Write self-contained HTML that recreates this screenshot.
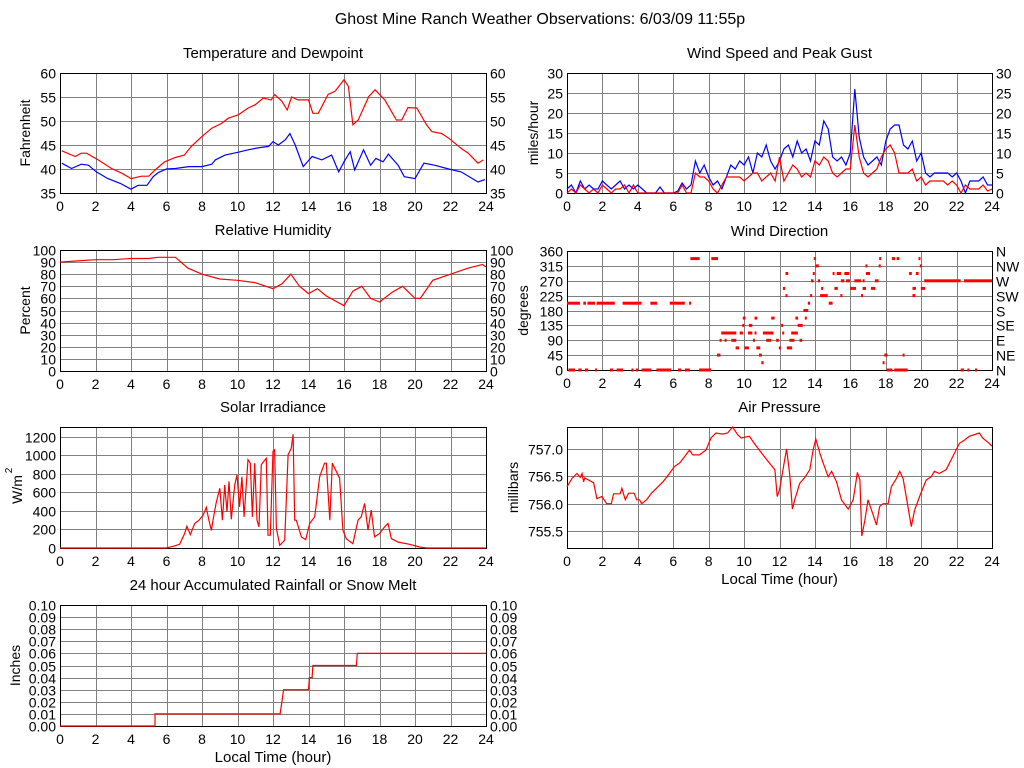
<!DOCTYPE html>
<html><head><meta charset="utf-8"><style>
html,body{margin:0;padding:0;background:#fff;}
svg{display:block;font-family:"Liberation Sans",Arial,sans-serif;}
</style></head><body>
<svg id="c" width="1024" height="768" viewBox="0 0 1024 768">
<text x="540" y="24" font-size="16" text-anchor="middle">Ghost Mine Ranch Weather Observations: 6/03/09 11:55p</text>
</svg>
<script>
// ---- Data ----
const tempHours=[0.1,0.85,1.2,1.5,2.15,2.9,3.5,4.0,4.6,5.0,5.35,5.9,6.5,7.0,7.4,8.0,8.55,9.1,9.5,10.05,10.6,11.0,11.45,11.9,12.1,12.5,12.8,13.05,13.4,14.0,14.25,14.55,15.1,15.5,16.0,16.25,16.5,16.8,17.4,17.75,18.3,18.95,19.25,19.6,20.1,20.65,20.95,21.5,21.95,22.6,23.0,23.55,23.85];
const tempValues=[43.8,42.6,43.3,43.3,41.9,40.1,39.1,38.0,38.5,38.5,39.8,41.5,42.4,42.9,44.7,46.8,48.5,49.5,50.6,51.3,52.7,53.4,54.8,54.4,55.5,54.1,52.3,55.0,54.4,54.4,51.6,51.6,55.5,56.2,58.6,57.2,49.2,50.2,55.1,56.5,54.4,50.2,50.2,52.8,52.7,49.2,47.8,47.4,46.3,44.3,43.3,41.2,41.9];
const dewHours=[0.1,0.65,1.2,1.6,2.05,2.7,3.4,4.0,4.4,4.9,5.25,5.55,6.0,6.5,7.25,8.0,8.55,8.75,9.3,10.05,10.6,11.15,11.75,12.0,12.3,12.7,12.95,13.25,13.7,14.2,14.75,15.3,15.7,16.0,16.35,16.6,17.1,17.5,17.8,18.2,18.5,19.05,19.4,20.0,20.5,21.1,21.9,22.6,23.55,23.95];
const dewValues=[41.2,40.1,41.0,40.8,39.4,38.0,37.0,35.8,36.6,36.6,38.4,39.3,40.0,40.1,40.5,40.5,41.0,41.9,42.9,43.5,44.0,44.4,44.7,45.7,45.0,46.1,47.4,45.0,40.5,42.6,41.9,42.9,39.4,41.5,43.6,39.8,44.0,40.8,42.2,41.5,43.1,40.8,38.4,38.0,41.2,40.8,40.0,39.4,37.3,37.8];
const gustValues=[1,2,0,3,1,2,1,1,3,2,1,2,3,1,2,1,2,1,0,0,0,1.5,0,0,0,0.5,2.5,1,2,8,5,7,4,2,3,1,4,7,6,8,7,9,5,10,9,12,8,6,8,11,12,9,13,10,11,8,13,12,18,16,9,8,9,7,10,26,14,9,7,8,9,7,13,16,17,17,12,11,13,8,10,5,4,5,5,5,5,4,5,3,0,3,3,3,4,2,2];
const speedValues=[0,1,0,2,1,0,1,0,2,1,0,1,1,2,0,2,0,0,0,0,0,0,0,0,0,0,2,0,0,5,4,4,3,1,0,2,4,4,4,4,3,4,5,5,3,4,5,3,9,3,5,7,6,4,5,4,8,7,9,8,5,4,5,6,6,17,9,5,4,5,6,9,11,12,10,5,5,5,6,3,4,2,3,3,3,3,2,3,2,0,2,1,1,1,2,0.5,1];
const rhHours=[0,1,2,3,4,5,5.5,6.5,7.2,8,9,10,11,12,12.5,13,13.5,14,14.5,15,16,16.5,17,17.5,18,18.7,19.3,20,20.3,21,22,23,23.8,24];
const rhValues=[90,91,92,92,93,93,94,94,85,80,76,75,73,68,72,80,70,64,68,62,54,66,70,60,57,65,70,60,60,75,80,85,88,86];
const dirStart=[0,0.92,1.15,1.67,3.14,4.71,5.8,6.89,0.08,0.64,1.01,1.58,2.42,2.8,3.64,3.89,4.21,5.05,6.27,6.65,7.46,18.05,18.48,22.23,22.61,23.04,6.97,8.15,13.93,17.63,18.35,18.61,19.85,8.47,17.92,18.95,10.84,8.62,8.9,9.28,10.5,11.25,11.81,12.56,13.13,8.71,9.75,10.22,10.59,11.06,12.15,12.66,9.52,10.03,10.69,11.96,12.41,9.93,10.59,11.53,12.9,13.43,9.9,10.27,12.09,13.03,10.97,17.82,12.19,19.51,19.98,14.35,15.1,15.98,16.69,17.16,12.34,13.88,15.0,15.23,15.66,16.88,19.32,19.7,12.34,13.73,14.29,15.44,16.6,19.51,13.6,14.78,13.35,13.78,14.16,15.47,15.76,16.23,16.69,17.39,20.17,22.42,14.03,16.85,17.6,19.92];
const dirEnd=[0.73,1.07,1.58,2.7,4.21,5.09,6.65,6.97,0.45,0.83,1.2,1.67,2.61,3.17,3.74,4.02,4.77,5.9,6.46,6.93,8.15,18.38,19.23,22.42,22.67,23.17,7.49,8.53,14.03,17.73,18.53,18.76,19.92,8.66,18.1,18.99,11.0,8.71,8.99,9.56,10.59,11.53,11.96,12.85,13.28,9.56,9.93,10.46,10.69,11.66,12.23,13.03,9.71,10.27,10.91,12.04,12.71,10.08,10.74,11.72,13.05,13.54,9.93,10.46,12.19,13.31,11.1,17.92,12.32,19.7,20.22,14.44,15.29,16.32,16.88,17.41,12.49,13.93,15.1,15.47,15.94,17.11,19.47,19.85,12.38,13.78,14.72,15.51,16.66,19.66,13.73,15.0,13.62,13.92,14.29,15.66,15.98,16.6,16.79,17.6,22.23,24,14.22,16.92,17.67,20.04];
const dirDeg=[202,202,202,202,202,202,202,202,0,0,0,0,0,0,0,0,0,0,0,0,0,0,0,0,0,0,337,337,337,337,337,337,337,45,45,45,45,90,90,90,90,90,90,90,90,112,112,112,112,112,112,112,67,67,67,67,67,157,157,157,157,157,135,135,135,135,22,22,247,247,247,247,247,247,247,247,292,292,292,292,292,292,292,292,225,225,225,225,225,225,202,202,180,270,270,270,270,270,270,270,270,270,315,315,315,315];
const solarHours=[0,5.99,6.37,6.74,7.02,7.15,7.34,7.59,7.83,8.06,8.24,8.39,8.53,8.62,8.8,9.0,9.15,9.28,9.41,9.52,9.65,9.84,9.97,10.12,10.25,10.37,10.5,10.59,10.72,10.84,10.97,11.1,11.21,11.34,11.47,11.62,11.72,11.85,12.0,12.09,12.19,12.38,12.66,12.85,13.03,13.13,13.22,13.31,13.6,13.84,14.07,14.35,14.63,14.9,15.0,15.2,15.34,15.75,15.94,16.13,16.5,16.79,16.97,17.16,17.35,17.53,17.72,18.0,18.29,18.48,18.67,19.04,19.32,19.7,20.26,20.64,24];
const solarValues=[0,0,18,40,156,235,145,265,300,355,440,300,190,300,490,645,300,680,390,720,310,680,790,445,770,337,700,955,917,337,917,300,228,900,935,970,138,138,1044,1062,210,29,83,1008,1080,1230,300,300,120,90,265,337,772,917,917,300,917,754,192,100,47,300,337,482,192,410,120,156,228,265,100,65,54,40,11,0,0];
const presHours=[0,0.28,0.56,0.75,0.85,0.94,1.0,1.5,1.69,1.97,2.24,2.5,2.63,3.0,3.1,3.29,3.48,3.79,3.94,4.1,4.21,4.49,4.77,5.05,5.42,5.79,6.07,6.36,6.64,6.92,7.1,7.48,7.85,8.13,8.41,8.79,9.07,9.35,9.64,9.83,10.3,10.6,11.07,11.36,11.74,11.87,12.0,12.24,12.4,12.58,12.73,12.86,13.14,13.43,13.71,13.9,14.05,14.28,14.47,14.75,14.94,15.22,15.5,15.88,16.16,16.4,16.54,16.65,16.82,17.0,17.29,17.48,17.66,17.85,18.13,18.32,18.6,18.79,18.98,19.25,19.44,19.63,19.91,20.28,20.56,20.75,21.03,21.41,21.69,21.97,22.16,22.44,22.72,23.29,23.47,23.85,24];
const presValues=[756.31,756.46,756.55,756.48,756.55,756.4,756.47,756.38,756.09,756.13,756.0,756.0,756.18,756.18,756.28,756.07,756.19,756.19,756.07,756.07,756.0,756.07,756.19,756.28,756.4,756.55,756.68,756.74,756.86,756.98,756.89,756.89,756.98,757.2,757.29,757.27,757.29,757.4,757.26,757.2,757.23,757.09,756.89,756.77,756.62,756.13,756.25,756.71,757.0,756.52,755.9,756.07,756.37,756.48,756.62,756.98,757.18,756.92,756.74,756.49,756.59,756.4,756.07,755.9,756.07,756.57,756.43,755.41,755.7,756.07,755.79,755.61,755.95,756.0,756.0,756.31,756.46,756.59,756.46,755.95,755.58,755.88,756.13,756.43,756.49,756.59,756.55,756.62,756.8,756.98,757.1,757.16,757.23,757.29,757.2,757.1,757.05];
const rainHours=[0,5.35,5.35,12.4,12.5,12.6,14.0,14.05,14.2,14.25,16.7,16.75,24];
const rainValues=[0,0,0.01,0.01,0.02,0.03,0.03,0.04,0.04,0.05,0.05,0.06,0.06];
const xTicks=[0,2,4,6,8,10,12,14,16,18,20,22,24];
const dirLabels=['N','NE','E','SE','S','SW','W','NW','N'];

// ---- Drawing ----
const svg=document.getElementById('c');
const NS='http://www.w3.org/2000/svg';
function mk(tag,attrs,parent){const e=document.createElementNS(NS,tag);for(const k in attrs)e.setAttribute(k,attrs[k]);(parent||svg).appendChild(e);return e;}
function txt(x,y,s,size,anchor,parent){const t=mk('text',{x:x,y:y,'font-size':size,'text-anchor':anchor},parent);t.textContent=s;return t;}

function panel(id,L,R,T,B,ymin,ymax,ticks,leftFmt,rightFmt,title,xlabel){
  const g=mk('g',{});
  
  
  const P={L,R,T,B,g,x:h=>L+h/24*(R-L),y:v=>B-(v-ymin)/(ymax-ymin)*(B-T)};
  xTicks.forEach(h=>{const X=Math.round(P.x(h))+0.5;const l=mk('line',{x1:X,x2:X,y1:T,y2:B,stroke:'#808080','stroke-width':1},g);
    
    const t=txt(P.x(h),B+18,String(h),14,'middle',g);});
  ticks.forEach((v,i)=>{const Y=Math.round(P.y(v))+0.5;const l=mk('line',{x1:L,x2:R,y1:Y,y2:Y,stroke:'#808080','stroke-width':1},g);
    
    const t=txt(L-4,Y+5,leftFmt(v,i),14,'end',g);
    if(rightFmt){const t2=txt(R+4,Y+5,rightFmt(v,i),14,'start',g);}});
  const fr=mk('rect',{x:L+0.5,y:T+0.5,width:R-L,height:B-T,fill:'none',stroke:'#000','stroke-width':1},g);
  
  const tt=txt((L+R)/2,T-15,title,15,'middle',g);
  if(xlabel){const xl=txt((L+R)/2,B+36,xlabel,15,'middle',g);}
  return P;
}
function ylab(P,s,x){const t=txt(0,0,s,14,'middle',P.g);t.setAttribute('transform','translate('+x+','+(P.T+P.B)/2+') rotate(-90)');
  return t;}
function line(P,hs,vs,color,name){const pts=hs.map((h,i)=>P.x(h).toFixed(1)+','+P.y(vs[i]).toFixed(1)).join(' ');
  const p=mk('polyline',{points:pts,fill:'none',stroke:color,'stroke-width':1.2},P.g);
  return p;}

const r5=(a,b,s)=>{const o=[];for(let v=a;v<=b+1e-9;v+=s)o.push(+v.toFixed(3));return o;};
const id=v=>String(v);

const P1=panel('temperature',60,486,73,193,35,60,r5(35,60,5),id,id,'Temperature and Dewpoint');
ylab(P1,'Fahrenheit',30);
line(P1,tempHours,tempValues,'#ff0000','temperature-line');
line(P1,dewHours,dewValues,'#0000ff','dewpoint-line');

const P2=panel('wind-speed',567,992,73,193,0,30,r5(0,30,5),id,id,'Wind Speed and Peak Gust');
ylab(P2,'miles/hour',538);
const windHours=gustValues.map((v,i)=>i*0.25);
line(P2,windHours,gustValues,'#0000ff','gust-line');
line(P2,windHours,speedValues,'#ff0000','speed-line');

const P3=panel('humidity',60,486,250,371,0,100,r5(0,100,10),id,id,'Relative Humidity');
ylab(P3,'Percent',30);
line(P3,rhHours,rhValues,'#ff0000','humidity-line');

const P4=panel('wind-direction',567,992,251,370,0,360,r5(0,360,45),id,(v,i)=>dirLabels[i],'Wind Direction');
ylab(P4,'degrees',528);
dirDeg.forEach((d,i)=>{const x1=P4.x(dirStart[i]),x2=P4.x(dirEnd[i]);
  const r=mk('rect',{x:x1.toFixed(1),y:(P4.y(d)-1.5).toFixed(1),width:Math.max(2,x2-x1).toFixed(1),height:3,fill:'#ff0000'},P4.g);
  
  });

const P5=panel('solar',60,486,427,548,0,1308,r5(0,1200,200),id,null,'Solar Irradiance');
const sl=txt(0,0,'W/m',14,'middle',P5.g);sl.setAttribute('transform','translate(22,'+((P5.T+P5.B)/2+2)+') rotate(-90)');

const sup=txt(0,0,'2',10,'middle',P5.g);sup.setAttribute('transform','translate(12,'+((P5.T+P5.B)/2-17)+') rotate(-90)');

line(P5,solarHours,solarValues,'#ff0000','solar-line');

const P6=panel('pressure',567,992,427,548,755.19,757.4,[755.5,756.0,756.5,757.0],v=>v.toFixed(1),null,'Air Pressure','Local Time (hour)');
ylab(P6,'millibars',518);
line(P6,presHours,presValues,'#ff0000','pressure-line');

const P7=panel('rain',60,486,605,726,0,0.1,r5(0,0.1,0.01),v=>v.toFixed(2),v=>v.toFixed(2),'24 hour Accumulated Rainfall or Snow Melt','Local Time (hour)');
ylab(P7,'Inches',20);
line(P7,rainHours,rainValues,'#ff0000','rain-line');
</script>
</body></html>
